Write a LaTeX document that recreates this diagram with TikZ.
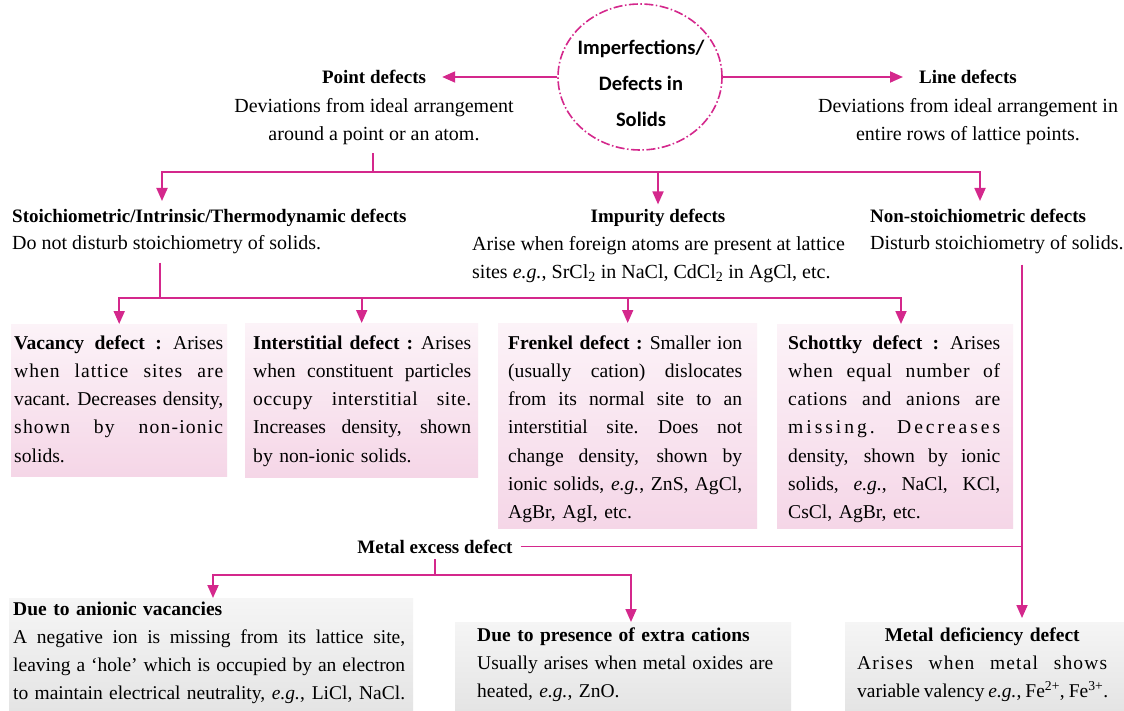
\documentclass[tikz,border=0pt]{standalone}
\usepackage{fontspec}
\setmainfont{Liberation Serif}
\newfontfamily\ellfont{Carlito}
\usetikzlibrary{arrows.meta,shapes.geometric,calc}
\definecolor{mag}{RGB}{212,40,140}
\definecolor{pinktop}{RGB}{252,243,248}
\definecolor{pinkbot}{RGB}{245,214,231}
\definecolor{graytop}{RGB}{245,245,245}
\definecolor{graybot}{RGB}{228,228,228}
\newlength{\bw}
\newcommand{\jl}[1]{\makebox[\bw][s]{\spaceskip=.22em plus 1fil minus .02em\xspaceskip=.26em plus 1fil minus .02em #1}}
\newcommand{\eg}{\textit{e.g.}}
\tikzset{
  conn/.style={draw=mag, line width=1.8pt},
  arr/.style={conn, -{Triangle[length=13pt,width=11pt]}},
  ttl/.style={font=\fontsize{19}{28}\selectfont\bfseries, inner sep=0pt},
  txt/.style={font=\fontsize{20}{28}\selectfont, inner sep=0pt},
  pbox/.style={top color=pinktop, bottom color=pinkbot, draw=none, inner sep=0pt, anchor=north west},
  gbox/.style={top color=graytop, bottom color=graybot, draw=none, inner sep=0pt, anchor=north west},
  boxtext/.style={inner sep=0pt, anchor=north west, align=left, text width=#1,
     font=\fontsize{19.6}{28.3}\selectfont},
  bottext/.style={inner sep=0pt, anchor=north west, align=left, text width=#1,
     font=\fontsize{19.5}{28}\selectfont},
}
\begin{document}
\begin{tikzpicture}[x=1pt,y=-1pt]
\useasboundingbox (0,0) rectangle (1124,711);
\fill[white] (0,0) rectangle (1124,711);

% central ellipse
\node[ellipse, draw=mag, line width=1.6pt, dash pattern=on 9pt off 2.5pt on 1.5pt off 2.5pt,
      minimum width=164pt, minimum height=146pt, inner sep=0pt] (ell) at (640,77) {};
\node[align=center, inner sep=0pt, font=\ellfont\bfseries\fontsize{20.5}{36}\selectfont] (ellt) at (641,83)
      {Imperfections/\\Defects in\\Solids};

% level 1
\node[ttl] (pt) at (374,77) {Point defects};
\node[txt, align=center] (ptd) at (374,122) {Deviations from ideal arrangement\\around a point or an atom.};
\node[ttl] (ln) at (968,77) {Line defects};
\node[txt, align=center] (lnd) at (968,122) {Deviations from ideal arrangement in\\entire rows of lattice points.};

% level 2
\node[ttl, anchor=base west] (st) at (12,223) {Stoichiometric/Intrinsic/Thermodynamic defects};
\node[txt, anchor=base west] (std) at (12,250) {Do not disturb stoichiometry of solids.};
\node[ttl, anchor=base] (imp) at (658,223) {Impurity defects};
\node[txt, anchor=north west, align=left] (impd) at (472,236)
  {Arise when foreign atoms are present at lattice\\sites \eg, SrCl\textsubscript{2} in NaCl, CdCl\textsubscript{2} in AgCl, etc.};
\node[ttl, anchor=base west] (ns) at (870,223) {Non-stoichiometric defects};
\node[txt, anchor=base west] (nsd) at (870,250) {Disturb stoichiometry of solids.};

% pink boxes
\node[pbox, minimum width=216pt, minimum height=152pt] (vacb) at (11,324) {};
\node[pbox, minimum width=233pt, minimum height=154pt] (intb) at (245,323) {};
\node[pbox, minimum width=259pt, minimum height=205pt] (frb) at (498,323) {};
\node[pbox, minimum width=236pt, minimum height=204pt] (scb) at (777,324) {};

\node[boxtext=209pt] (vact) at (14,335)
 {\setlength{\bw}{209pt}%
  \jl{\textbf{Vacancy defect :} Arises}\\
  \jl{\addfontfeature{LetterSpace=5}when lattice sites are}\\
  \jl{vacant. Decreases density,}\\
  \jl{\addfontfeature{LetterSpace=6}shown by non-ionic}\\
  solids.};
\node[boxtext=218pt] (intt) at (253,335)
 {\setlength{\bw}{218pt}%
  \jl{\textbf{Interstitial defect :} Arises}\\
  \jl{when constituent particles}\\
  \jl{\addfontfeature{LetterSpace=3}occupy interstitial site.}\\
  \jl{Increases density, shown}\\
  by non-ionic solids.};
\node[boxtext=234pt] (frt) at (508,335)
 {\setlength{\bw}{234pt}%
  \jl{\textbf{Frenkel defect :} Smaller ion}\\
  \jl{(usually cation) dislocates}\\
  \jl{from its normal site to an}\\
  \jl{interstitial site. Does not}\\
  \jl{change density, shown by}\\
  \jl{ionic solids, \eg, ZnS, AgCl,}\\
  AgBr, AgI, etc.};
\node[boxtext=212pt] (sct) at (788,335)
 {\setlength{\bw}{212pt}%
  \jl{\textbf{Schottky defect :} Arises}\\
  \jl{\addfontfeature{LetterSpace=4}when equal number of}\\
  \jl{\addfontfeature{LetterSpace=3}cations and anions are}\\
  \jl{\addfontfeature{LetterSpace=15}missing. Decreases}\\
  \jl{density, shown by ionic}\\
  \jl{solids, \eg, NaCl, KCl,}\\
  CsCl, AgBr, etc.};

% metal excess
\node[ttl, anchor=base] (me) at (435,553) {Metal excess defect};

% grey boxes
\node[gbox, minimum width=404pt, minimum height=113pt] (anb) at (9,598) {};
\node[gbox, minimum width=336pt, minimum height=89pt] (preb) at (455,622) {};
\node[gbox, minimum width=279pt, minimum height=89pt] (mdb) at (845,622) {};

\node[bottext=392pt] (ant) at (13,602)
 {\setlength{\bw}{392pt}%
  \textbf{Due to anionic vacancies}\\
  \jl{A negative ion is missing from its lattice site,}\\
  \jl{leaving a ‘hole’ which is occupied by an electron}\\
  \jl{to maintain electrical neutrality, \eg, LiCl, NaCl.}};
\node[bottext=296pt] (pret) at (477,628)
 {\setlength{\bw}{296pt}%
  \textbf{Due to presence of extra cations}\\
  \jl{Usually arises when metal oxides are}\\
  heated, \eg, ZnO.};
\node[bottext=250pt] (mdt) at (857,628)
 {\setlength{\bw}{250pt}%
  \makebox[\bw][c]{\textbf{Metal deficiency defect}}\\
  \jl{\addfontfeature{LetterSpace=6}Arises when metal shows}\\
  \jl{variable valency \eg, Fe\textsuperscript{2+}, Fe\textsuperscript{3+}.}};

% connectors
\coordinate (j1) at (373,172);
\coordinate (tL) at (162,201);
\coordinate (tR) at (980,201);
\coordinate (j2) at (160,298);
\coordinate (jx) at (1022,0);
\coordinate (j3) at (435,575);
\coordinate (xA) at (213,0);
\coordinate (xB) at (631,0);
\coordinate (xS) at (901,0);

\draw[arr, shorten >=16pt] (ell.west) -- (pt.east);
\draw[arr, shorten >=16pt] (ell.east) -- (ln.west);
\draw[conn, shorten <=8pt] (ptd.south -| j1) -- (j1);
\draw[arr] (j1) -| (tL);
\draw[arr] (j1) -| (tR);
\draw[arr, shorten >=5pt] (imp.north |- j1) -- (imp.north);

\draw[conn, shorten <=8pt] (std.south -| j2) -- (j2);
\draw[arr] (j2) -| (vacb.north);
\draw[arr] (j2) -| (intb.north);
\draw[arr] (j2) -| (frb.north);
\draw[arr] (j2) -| (scb.north -| xS);

\draw[arr, shorten <=10pt, shorten >=4pt] (nsd.south -| jx) -- (mdb.north -| jx);
\draw[conn, shorten <=8pt] (me.east) -- (me.east -| jx);
\draw[conn, shorten <=6pt] (me.south) -- (j3);
\draw[arr] (j3) -| (anb.north -| xA);
\draw[arr] (j3) -| (preb.north -| xB);
\end{tikzpicture}
\end{document}
